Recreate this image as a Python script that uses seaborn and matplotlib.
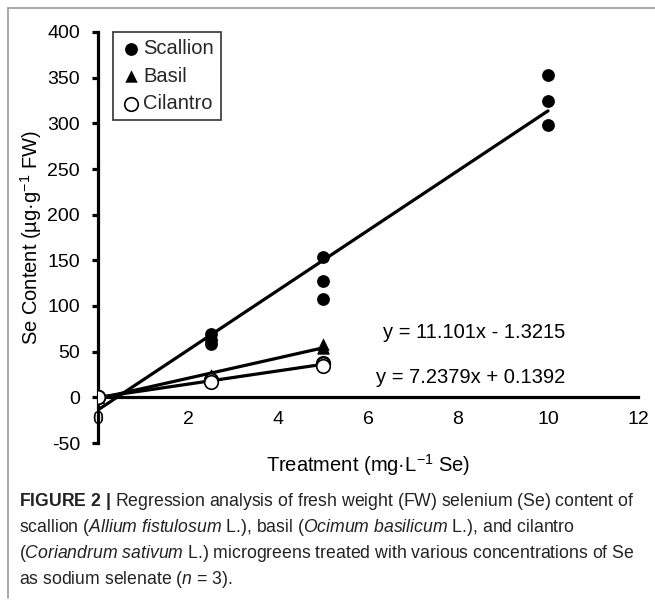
import matplotlib
matplotlib.use("Agg")
import matplotlib.pyplot as plt
import seaborn as sns
import pandas as pd
from matplotlib.lines import Line2D

# ---- data ----
scallion_x = [0, 0, 0, 2.5, 2.5, 2.5, 5, 5, 5, 10, 10, 10]
scallion_y = [0, 0, 0, 69, 63, 58, 154, 127, 108, 353, 324, 298]
basil_x = [0, 0, 0, 2.5, 2.5, 2.5, 5, 5, 5]
basil_y = [0, 0, 0, 25, 24, 22.4, 58, 55, 53.5]
cilantro_x = [0, 0, 0, 2.5, 2.5, 2.5, 5, 5, 5]
cilantro_y = [0, 0, 0, 19, 18.5, 16.5, 38, 36, 34.6]
eq_basil = "y = 11.101x - 1.3215"
eq_cilantro = "y = 7.2379x + 0.1392"
x_ticks = [0, 2, 4, 6, 8, 10, 12]
y_ticks = [-50, 0, 50, 100, 150, 200, 250, 300, 350, 400]

sns.set_theme(style="white")
plt.rcParams["font.family"] = ["Liberation Sans", "DejaVu Sans"]
plt.rcParams["mathtext.fontset"] = "custom"
plt.rcParams["mathtext.rm"] = "Liberation Sans"
plt.rcParams["mathtext.it"] = "Liberation Sans:italic"
plt.rcParams["mathtext.bf"] = "Liberation Sans:bold"
plt.rcParams["axes.unicode_minus"] = False

fig = plt.figure(figsize=(6.55, 6.06), dpi=100)
ax = fig.add_axes([98 / 655, 1 - 443 / 606, 540 / 655, 411 / 606])

df_s = pd.DataFrame({"x": scallion_x, "y": scallion_y})
df_b = pd.DataFrame({"x": basil_x, "y": basil_y})
df_c = pd.DataFrame({"x": cilantro_x, "y": cilantro_y})

lw = 2.3
sns.regplot(data=df_s, x="x", y="y", ax=ax, ci=None, marker="o", label="Scallion",
            scatter_kws=dict(s=85, color="black", edgecolor="black", linewidths=0,
                             alpha=1, zorder=3),
            line_kws=dict(color="black", lw=lw, zorder=2))
sns.regplot(data=df_b, x="x", y="y", ax=ax, ci=None, marker="^", label="Basil",
            scatter_kws=dict(s=80, color="black", edgecolor="black", linewidths=0,
                             alpha=1, zorder=3),
            line_kws=dict(color="black", lw=lw, zorder=2))
sns.regplot(data=df_c, x="x", y="y", ax=ax, ci=None, marker="o", label="Cilantro",
            scatter_kws=dict(s=95, facecolor="white", edgecolor="black", linewidths=1.2,
                             alpha=1, zorder=4),
            line_kws=dict(color="black", lw=lw, zorder=2))

ax.set_xlim(0, 12)
ax.set_ylim(-50, 400)
ax.set_xticks(x_ticks)
ax.set_yticks(y_ticks)
ax.set_xticklabels([str(t) for t in x_ticks])
ax.set_yticklabels([str(t) for t in y_ticks])

for side in ("top", "right"):
    ax.spines[side].set_visible(False)
ax.spines["bottom"].set_position(("data", 0))
ax.spines["bottom"].set_linewidth(2.3)
ax.spines["left"].set_linewidth(2.3)
ax.spines["bottom"].set_color("black")
ax.spines["left"].set_color("black")

ax.tick_params(axis="x", length=0, pad=10, labelsize=14, colors="black")
ax.tick_params(axis="y", direction="out", length=4, width=2.3, pad=9, labelsize=14,
               colors="black", left=True)

ax.set_xlabel("Treatment (mg·L$^{-1}$ Se)", fontsize=14.5, color="black")
ax.set_ylabel("Se Content (µg·g$^{-1}$ FW)", fontsize=14.5, color="black")
ax.xaxis.set_label_coords(0.5, -0.022)
ax.yaxis.set_label_coords(-0.10, 0.5)

ax.text(8.35, 71, eq_basil, fontsize=14.5, ha="center", va="center", color="black")
ax.text(8.28, 22, eq_cilantro, fontsize=14.5, ha="center", va="center", color="black")

leg = ax.legend(loc="upper left", bbox_to_anchor=(0.028, 1.0), borderaxespad=0,
                fontsize=14.5, frameon=True, fancybox=False, edgecolor="black",
                handletextpad=0.05, handlelength=1.1, labelspacing=0.42,
                borderpad=0.35)
leg.get_frame().set_linewidth(1.2)

# journal frame
fig.add_artist(Line2D([8 / 655, 8 / 655], [1 - 8 / 606, 1 - 598 / 606],
                      transform=fig.transFigure, color="#999999", lw=1.2))
fig.add_artist(Line2D([8 / 655, 1.0], [1 - 8 / 606, 1 - 8 / 606],
                      transform=fig.transFigure, color="#999999", lw=1.2))

cap = [
    r"$\mathbf{FIGURE\ 2\ |}$ Regression analysis of fresh weight (FW) selenium (Se) content of",
    r"scallion ($\mathit{Allium\ fistulosum}$ L.), basil ($\mathit{Ocimum\ basilicum}$ L.), and cilantro",
    r"($\mathit{Coriandrum\ sativum}$ L.) microgreens treated with various concentrations of Se",
    r"as sodium selenate ($n$ = 3).",
]
for i, line in enumerate(cap):
    fig.text(19 / 655, 1 - (502 + 26 * i) / 606, line, fontsize=12.7, ha="left",
             va="center", color="#222222")

fig.savefig("out.png", dpi=100)
